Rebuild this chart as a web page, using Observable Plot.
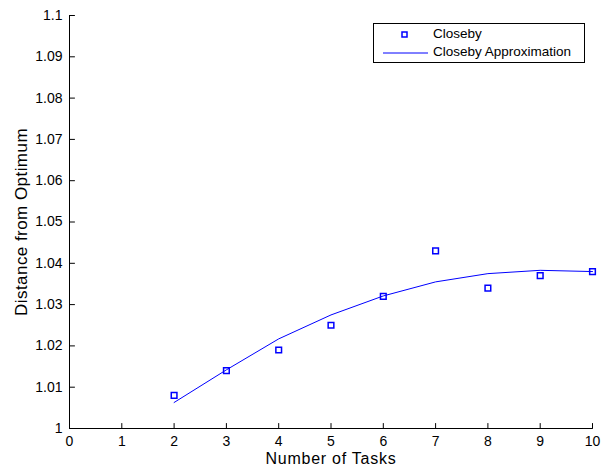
<!DOCTYPE html>
<html>
<head>
<meta charset="utf-8">
<script src="https://cdn.jsdelivr.net/npm/d3@7"></script>
<script src="https://cdn.jsdelivr.net/npm/@observablehq/plot@0.6"></script>
<style>
  html, body { margin: 0; padding: 0; background: #fff; }
  #wrap { position: relative; width: 602px; height: 467px; font-family: "Liberation Sans", Arial, sans-serif; }
  #legend { position: absolute; left: 373px; top: 23px; width: 212px; height: 40px; border: 1px solid #000; background: #fff; box-sizing: border-box; font-size: 13.5px; }
  #legend svg { position: absolute; left: 0; top: 0; }
  .lt { position: absolute; left: 59px; white-space: nowrap; }
</style>
</head>
<body>
<div id="wrap">
  <div id="chart"></div>
  <div id="legend">
    <svg width="211" height="39">
      <rect x="28" y="8" width="5" height="5" fill="none" stroke="#0000ff" stroke-width="1.5"></rect>
      <line x1="9" x2="54" y1="29" y2="29" stroke="#0000ff" stroke-width="1"></line>
    </svg>
    <div class="lt" style="top:2px">Closeby</div>
    <div class="lt" style="top:20px">Closeby Approximation</div>
  </div>
</div>
<script>
const tasks = [2, 3, 4, 5, 6, 7, 8, 9, 10];
const closeby = [1.008, 1.014, 1.019, 1.025, 1.032, 1.043, 1.034, 1.037, 1.038];
const approx = [1.0063, 1.0142, 1.0217, 1.0275, 1.0321, 1.0355, 1.0375, 1.0383, 1.038];
const xTicks = [0, 1, 2, 3, 4, 5, 6, 7, 8, 9, 10];
const yTicks = [1, 1.01, 1.02, 1.03, 1.04, 1.05, 1.06, 1.07, 1.08, 1.09, 1.1];
const xLabel = "Number of Tasks";
const yLabel = "Distance from Optimum";

const pts = tasks.map((t, i) => ({t, v: closeby[i]}));
const line = tasks.map((t, i) => ({t, v: approx[i]}));

const tickShape = {draw(context, l) { context.moveTo(0, 0); context.lineTo(0, -l); }};

const chart = Plot.plot({
  width: 602,
  height: 467,
  marginLeft: 69,
  marginRight: 10,
  marginTop: 15,
  marginBottom: 39,
  style: {fontFamily: "Liberation Sans, Arial, sans-serif", fontSize: "14px", color: "#000", background: "#fff"},
  x: {domain: [0, 10]},
  y: {domain: [1, 1.1]},
  marks: [
    Plot.axisX(xTicks, {tickSize: 0, tickPadding: 8, fontSize: 14, tickFormat: d => String(d), label: null}),
    Plot.axisY(yTicks, {tickSize: 0, tickPadding: 7, fontSize: 14, tickFormat: d => String(+d.toFixed(2)), label: null}),
    Plot.vector(xTicks, {x: d => d, y: 1, length: 5, rotate: 0, anchor: "start", shape: tickShape, stroke: "#000", strokeWidth: 1}),
    Plot.vector(yTicks, {x: 0, y: d => d, length: 5, rotate: 90, anchor: "start", shape: tickShape, stroke: "#000", strokeWidth: 1}),
    Plot.ruleY([1], {stroke: "#000"}),
    Plot.ruleX([0], {stroke: "#000"}),
    Plot.line(line, {x: "t", y: "v", stroke: "#0000ff", strokeWidth: 1}),
    Plot.dot(pts, {x: "t", y: "v", symbol: "square", r: 3.2, fill: "none", stroke: "#0000ff", strokeWidth: 1.5}),
    Plot.text([xLabel], {frameAnchor: "bottom", lineAnchor: "middle", textAnchor: "middle", dy: 30.4, fontSize: 16}),
    Plot.text([yLabel], {frameAnchor: "left", lineAnchor: "middle", textAnchor: "middle", dx: -48, rotate: -90, fontSize: 17})
  ]
});
d3.select(chart).selectAll("text").filter(function() { return this.textContent === xLabel; }).style("letter-spacing", "0.75px");
d3.select(chart).selectAll("text").filter(function() { return this.textContent === yLabel; }).style("letter-spacing", "0.45px");
document.getElementById("chart").appendChild(chart);
</script>
</body>
</html>
